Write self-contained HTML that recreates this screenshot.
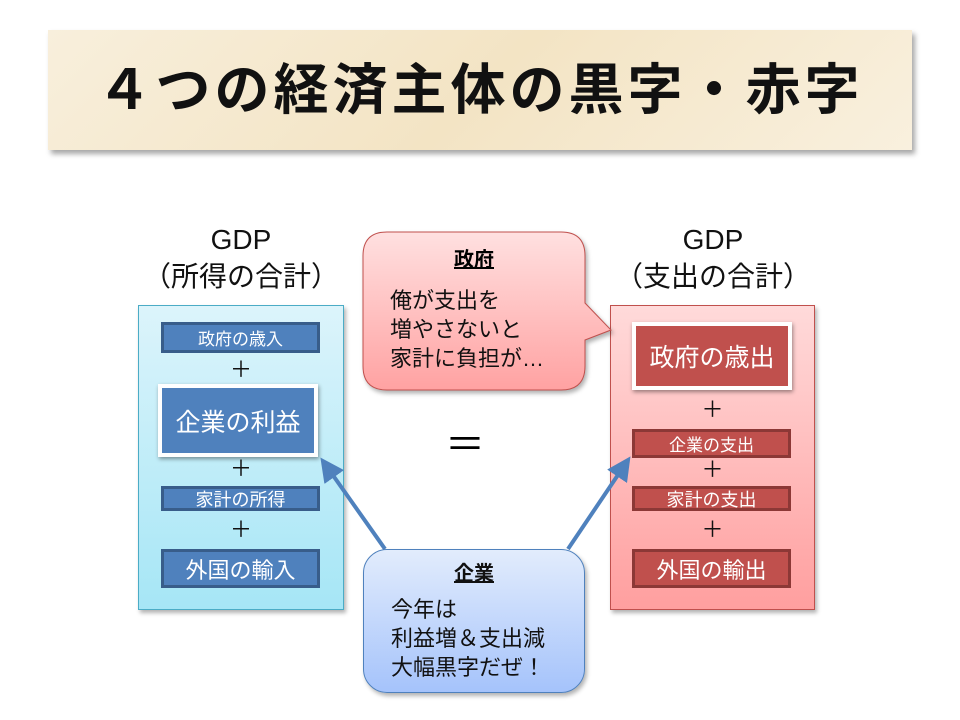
<!DOCTYPE html>
<html><head><meta charset="utf-8"><style>
body{margin:0;width:960px;height:720px;background:#fff;position:relative;overflow:hidden;font-family:"Liberation Sans","Noto Sans CJK JP",sans-serif;}
.a{position:absolute;box-sizing:border-box;}
.banner{left:48px;top:30px;width:864px;height:120px;background:linear-gradient(135deg,#f8efdc,#f3e4c4 50%,#f9f0de);box-shadow:3px 4px 5px rgba(0,0,0,.35);text-align:center;font-size:55px;font-weight:bold;line-height:120px;letter-spacing:4px;color:#111;}
.hd{text-align:center;font-size:28px;line-height:37px;color:#111;}
.panel{border:1px solid;box-shadow:2px 3px 4px rgba(0,0,0,.3);}
.bx{color:#fff;text-align:center;border:3px solid;display:flex;align-items:center;justify-content:center;}
.b{background:#4f81bd;border-color:#385d8a;}
.r{background:#c0504d;border-color:#8c3836;}
.pl{font-size:22px;text-align:center;color:#111;line-height:22px;}
.bub{border-radius:24px;box-shadow:2px 3px 4px rgba(0,0,0,.3);font-size:22px;line-height:29px;color:#111;}
</style></head><body>
<div class="a banner">４つの経済主体の黒字・赤字</div>

<div class="a hd" style="left:130px;top:221px;width:222px;">GDP<br>（所得の合計）</div>
<div class="a hd" style="left:602px;top:221px;width:222px;">GDP<br>（支出の合計）</div>

<div class="a panel" style="left:138px;top:305px;width:206px;height:305px;background:linear-gradient(#dcf4fb,#a6e6f6);border-color:#4bacc6;"></div>
<div class="a bx b" style="left:161px;top:322px;width:159px;height:31px;font-size:17px;">政府の歳入</div>
<div class="a pl" style="left:138px;top:359px;width:206px;">＋</div>
<div class="a bx b" style="left:158px;top:384px;width:160px;height:73px;font-size:25px;border:4px solid #fff;box-shadow:1px 2px 4px rgba(0,0,0,.4);">企業の利益</div>
<div class="a pl" style="left:138px;top:458px;width:206px;">＋</div>
<div class="a bx b" style="left:161px;top:486px;width:159px;height:25px;font-size:18px;">家計の所得</div>
<div class="a pl" style="left:138px;top:519px;width:206px;">＋</div>
<div class="a bx b" style="left:161px;top:549px;width:159px;height:39px;font-size:22px;">外国の輸入</div>

<div class="a panel" style="left:610px;top:305px;width:205px;height:305px;background:linear-gradient(#ffdada,#ff9f9f);border-color:#c0504d;"></div>
<div class="a bx r" style="left:632px;top:322px;width:160px;height:68px;font-size:25px;border:4px solid #fff;box-shadow:1px 2px 4px rgba(0,0,0,.4);">政府の歳出</div>
<div class="a pl" style="left:610px;top:399px;width:205px;">＋</div>
<div class="a bx r" style="left:632px;top:429px;width:159px;height:29px;font-size:17px;">企業の支出</div>
<div class="a pl" style="left:610px;top:459px;width:205px;">＋</div>
<div class="a bx r" style="left:632px;top:486px;width:159px;height:25px;font-size:18px;">家計の支出</div>
<div class="a pl" style="left:610px;top:519px;width:205px;">＋</div>
<div class="a bx r" style="left:632px;top:549px;width:159px;height:39px;font-size:22px;">外国の輸出</div>

<svg class="a" style="left:0;top:0" width="960" height="720">
<defs><linearGradient id="g1" x1="0" y1="0" x2="0" y2="1"><stop offset="0" stop-color="#ffe0e0"/><stop offset="1" stop-color="#ffa2a2"/></linearGradient>
<marker id="ar" markerWidth="6" markerHeight="6" refX="4" refY="3" orient="auto"><path d="M0,0 L6,3 L0,6 Z" fill="#4f81bd"/></marker></defs>
<path d="M387,232 H561 Q585,232 585,256 V303 L611,330 L585,340 V366 Q585,390 561,390 H387 Q363,390 363,366 V256 Q363,232 387,232 Z" fill="url(#g1)" stroke="#c0504d" stroke-width="1" filter="drop-shadow(2px 3px 2px rgba(0,0,0,.3))"/>
<line x1="385" y1="549" x2="325" y2="464" stroke="#4f81bd" stroke-width="4" marker-end="url(#ar)"/>
<line x1="568" y1="549" x2="626" y2="463" stroke="#4f81bd" stroke-width="4" marker-end="url(#ar)"/>
</svg>
<div class="a" style="left:363px;width:222px;text-align:center;font-size:20px;font-weight:bold;text-decoration:underline;top:243px;">政府</div>
<div class="a" style="left:390px;top:286px;font-size:22px;line-height:29px;color:#111;">俺が支出を<br>増やさないと<br>家計に負担が…</div>

<div class="a" style="left:445px;top:425px;font-size:40px;line-height:40px;">＝</div>

<div class="a bub" style="left:363px;top:549px;width:222px;height:144px;background:linear-gradient(#e2ecfc,#a5c3fb);border:1px solid #4f81bd;">
<div style="text-align:center;font-weight:bold;text-decoration:underline;font-size:20px;margin-top:11px;line-height:26px;">企業</div>
<div style="padding-left:27px;margin-top:8px;">今年は<br>利益増＆支出減<br>大幅黒字だぜ！</div>
</div>
</body></html>
